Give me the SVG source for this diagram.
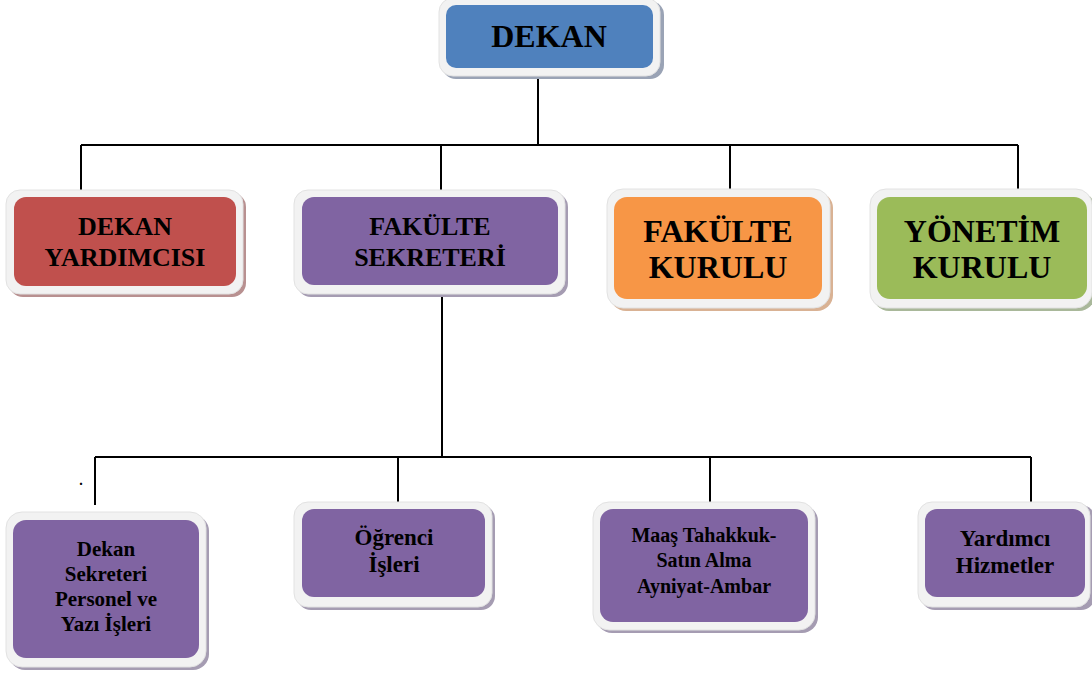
<svg xmlns="http://www.w3.org/2000/svg" width="1092" height="674" viewBox="0 0 1092 674">
<style>
.frame{fill:#F2F2F2;stroke:#E2E2E2;stroke-width:1}
.t{font-family:"Liberation Serif","Times New Roman",serif;font-weight:bold;fill:#000;text-anchor:middle}
.big{font-size:32px}
.mid{font-size:26px}
.sm{font-size:21px}
.md{font-size:23px}
.conn{stroke:#000;stroke-width:2;fill:none}
</style>
<rect width="1092" height="674" fill="#fff"/>
<g id="connectors">
<path class="conn" d="M538,76 V145 M81,145 H1018 M81,145 V190 M441,145 V190 M730,145 V189 M1018,145 V189"/>
<path class="conn" d="M442,294 V457 M95,457 H1031 M95,457 V505 M398,457 V502 M710,457 V502 M1031,457 V502"/>
</g>
<text class="t" x="81" y="485" style="font-size:14px">.</text>
<g id="dekan">
<rect x="442" y="1" width="222" height="78" rx="14" fill="#9AA3B5"/>
<rect class="frame" x="439" y="-2" width="221" height="78" rx="14"/>
<rect x="446" y="5" width="207" height="63" rx="10" fill="#4F81BD"/>
<text class="t big" x="549" y="47">DEKAN</text>
</g>
<g id="dekan-yardimcisi">
<rect x="9" y="193" width="237" height="104" rx="14" fill="#B89090"/>
<rect class="frame" x="6" y="190" width="237" height="104" rx="14"/>
<rect x="14" y="197" width="222" height="89" rx="12" fill="#C0504D"/>
<text class="t mid" x="125" y="235">DEKAN</text>
<text class="t mid" x="125" y="266">YARDIMCISI</text>
</g>
<g id="fakulte-sekreteri">
<rect x="297" y="193" width="271" height="104" rx="14" fill="#A59CB2"/>
<rect class="frame" x="294" y="190" width="271" height="104" rx="14"/>
<rect x="302" y="197" width="256" height="88" rx="12" fill="#8064A2"/>
<text class="t mid" x="430" y="235">FAKÜLTE</text>
<text class="t mid" x="430" y="266">SEKRETERİ</text>
</g>
<g id="fakulte-kurulu">
<rect x="610" y="192" width="223" height="119" rx="16" fill="#D9B294"/>
<rect class="frame" x="607" y="189" width="223" height="119" rx="16"/>
<rect x="614" y="197" width="208" height="102" rx="13" fill="#F79646"/>
<text class="t big" x="718" y="242">FAKÜLTE</text>
<text class="t big" x="718" y="278">KURULU</text>
</g>
<g id="yonetim-kurulu">
<rect x="873" y="192" width="222" height="119" rx="16" fill="#A9B89A"/>
<rect class="frame" x="870" y="189" width="222" height="119" rx="16"/>
<rect x="877" y="197" width="210" height="102" rx="13" fill="#9BBB59"/>
<text class="t big" x="982" y="242">YÖNETİM</text>
<text class="t big" x="982" y="278">KURULU</text>
</g>
<g id="dekan-sekreteri">
<rect x="9" y="515" width="200" height="155" rx="16" fill="#A59CB2"/>
<rect class="frame" x="6" y="512" width="200" height="155" rx="16"/>
<rect x="13" y="520" width="186" height="138" rx="13" fill="#8064A2"/>
<text class="t sm" x="106" y="556">Dekan</text>
<text class="t sm" x="106" y="581">Sekreteri</text>
<text class="t sm" x="106" y="606">Personel ve</text>
<text class="t sm" x="106" y="631">Yazı İşleri</text>
</g>
<g id="ogrenci-isleri">
<rect x="297" y="505" width="198" height="105" rx="14" fill="#A59CB2"/>
<rect class="frame" x="294" y="502" width="198" height="105" rx="14"/>
<rect x="302" y="509" width="183" height="88" rx="12" fill="#8064A2"/>
<text class="t md" x="394" y="545">Öğrenci</text>
<text class="t md" x="394" y="572">İşleri</text>
</g>
<g id="maas">
<rect x="596" y="505" width="222" height="128" rx="16" fill="#A59CB2"/>
<rect class="frame" x="593" y="502" width="222" height="128" rx="16"/>
<rect x="600" y="509" width="208" height="113" rx="13" fill="#8064A2"/>
<text class="t" x="704" y="542" style="font-size:20px">Maaş Tahakkuk-</text>
<text class="t" x="704" y="567" style="font-size:20px">Satın Alma</text>
<text class="t" x="704" y="593" style="font-size:20px">Ayniyat-Ambar</text>
</g>
<g id="yardimci">
<rect x="921" y="505" width="174" height="105" rx="14" fill="#A59CB2"/>
<rect class="frame" x="918" y="502" width="172" height="105" rx="14"/>
<rect x="925" y="509" width="160" height="88" rx="12" fill="#8064A2"/>
<text class="t md" x="1005" y="546">Yardımcı</text>
<text class="t md" x="1005" y="573">Hizmetler</text>
</g>
</svg>
